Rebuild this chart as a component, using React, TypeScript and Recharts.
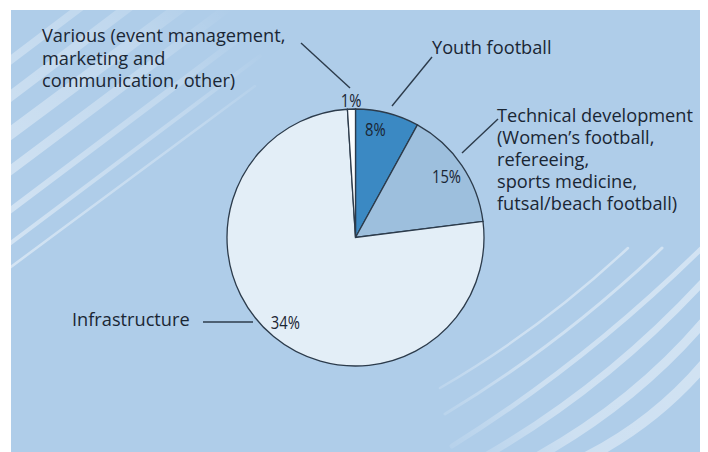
import React from "react";
import { PieChart, Pie, Cell, Customized } from "recharts";

// slices, clockwise from 12 o'clock
const categories = ["Youth football", "Technical development", "Infrastructure", "Various"];
const shares = [8, 15, 76, 1];
// percentages as printed on the chart
const printedLabels = ["8%", "15%", "34%", "1%"];
const sliceColors = ["#3b89c3", "#9dbfdd", "#e3eef7", "#fbfdff"];

// annotation texts
const youthText = ["Youth football"];
const technicalText = [
  "Technical development",
  "(Women\u2019s football,",
  "refereeing,",
  "sports medicine,",
  "futsal/beach football)",
];
const infraText = ["Infrastructure"];
const variousText = ["Various (event management,", "marketing and", "communication, other)"];

const W = 708;
const H = 452;
const CX = 355.5;
const CY = 237.5;
const R = 128.5;
const INK = "#1a2634";
const EDGE = "#2c3b4b";
const FONT = "'Open Sans', 'Noto Sans', sans-serif";
const RAD = Math.PI / 180;

const chartData = categories.map((name, i) => ({
  name,
  value: shares[i],
  label: printedLabels[i],
}));

const renderPercent = (props: any) => {
  const { cx, cy, midAngle, outerRadius, index } = props;
  const small = shares[index] < 3;
  const r = small ? outerRadius + 9.5 : outerRadius - 18.5;
  // the 8% label sits a little left of the slice middle in the original
  const a = index === 0 ? midAngle + 4 : midAngle;
  const x = cx + r * Math.cos(-a * RAD);
  const y = cy + r * Math.sin(-a * RAD);
  return (
    <text
      key={`pct-${index}`}
      transform={`translate(${x}, ${y}) scale(0.82, 1)`}
      textAnchor="middle"
      dominantBaseline="central"
      fontFamily={FONT}
      fontSize={18}
      fill={INK}
    >
      {printedLabels[index]}
    </text>
  );
};

const TextBlock = ({ lines, x, y, step }: { lines: string[]; x: number; y: number; step: number }) => (
  <text fontFamily={FONT} fontSize={18.2} fill={INK}>
    {lines.map((l, i) => (
      <tspan key={i} x={x} y={y + i * step} dominantBaseline="central">
        {l}
      </tspan>
    ))}
  </text>
);

const Annotations = () => (
  <g>
    <line x1={301} y1={43} x2={350} y2={88} stroke={EDGE} strokeWidth={1.4} />
    <line x1={432} y1={57} x2={392} y2={106} stroke={EDGE} strokeWidth={1.4} />
    <line x1={498} y1={119} x2={462} y2={153} stroke={EDGE} strokeWidth={1.4} />
    <line x1={203} y1={322} x2={253} y2={322} stroke={EDGE} strokeWidth={1.4} />
    <TextBlock lines={variousText} x={42} y={35} step={22.5} />
    <TextBlock lines={youthText} x={432} y={47} step={22} />
    <TextBlock lines={technicalText} x={497} y={115} step={22} />
    <TextBlock lines={infraText} x={72} y={319} step={22} />
  </g>
);

// decorative light streaks on the panel
const Streaks = () => (
  <svg width={W} height={H} style={{ position: "absolute", left: 0, top: 0 }}>
    <defs>
      <clipPath id="panel">
        <rect x={11} y={10} width={689} height={442} />
      </clipPath>
      <linearGradient id="fadeTL" gradientUnits="userSpaceOnUse" x1={11} y1={260} x2={260} y2={40}>
        <stop offset="0" stopColor="#fff" stopOpacity={0.45} />
        <stop offset="0.7" stopColor="#fff" stopOpacity={0.22} />
        <stop offset="1" stopColor="#fff" stopOpacity={0} />
      </linearGradient>
      <linearGradient id="fadeBR" gradientUnits="userSpaceOnUse" x1={440} y1={440} x2={700} y2={250}>
        <stop offset="0" stopColor="#fff" stopOpacity={0.08} />
        <stop offset="0.35" stopColor="#fff" stopOpacity={0.38} />
        <stop offset="1" stopColor="#fff" stopOpacity={0.45} />
      </linearGradient>
    </defs>
    <g clipPath="url(#panel)" fill="none" strokeLinecap="round">
      <path d="M0 68 L90 0" stroke="url(#fadeTL)" strokeWidth={8} />
      <path d="M0 104 L135 2" stroke="url(#fadeTL)" strokeWidth={10} />
      <path d="M0 141 L190 0" stroke="url(#fadeTL)" strokeWidth={12} />
      <path d="M0 178 L230 6" stroke="url(#fadeTL)" strokeWidth={9} />
      <path d="M0 218 L250 30" stroke="url(#fadeTL)" strokeWidth={6} />
      <path d="M0 251 L260 56" stroke="url(#fadeTL)" strokeWidth={4} />
      <path d="M0 275 L255 86" stroke="url(#fadeTL)" strokeWidth={2.5} />
      <path d="M440 388 Q540 330 628 248" stroke="url(#fadeBR)" strokeWidth={2.5} />
      <path d="M445 414 Q560 345 662 248" stroke="url(#fadeBR)" strokeWidth={3} />
      <path d="M452 446 Q590 360 710 240" stroke="url(#fadeBR)" strokeWidth={5} />
      <path d="M482 458 Q610 385 712 272" stroke="url(#fadeBR)" strokeWidth={7} />
      <path d="M535 458 Q640 400 712 312" stroke="url(#fadeBR)" strokeWidth={9} />
      <path d="M585 458 Q660 420 712 355" stroke="url(#fadeBR)" strokeWidth={11} />
    </g>
  </svg>
);

export default function App() {
  return (
    <div style={{ position: "absolute", left: 0, top: 0, width: W, height: H, background: "#ffffff" }}>
      <div
        style={{
          position: "absolute",
          left: 11,
          top: 10,
          width: 689,
          height: 442,
          background: "#afcde9",
        }}
      />
      <Streaks />
      <div style={{ position: "absolute", left: 0, top: 0 }}>
        <PieChart width={W} height={H} margin={{ top: 0, right: 0, bottom: 0, left: 0 }}>
          <Pie
            data={chartData}
            dataKey="value"
            nameKey="name"
            cx={CX}
            cy={CY}
            outerRadius={R}
            startAngle={90}
            endAngle={-270}
            stroke={EDGE}
            strokeWidth={1.3}
            label={renderPercent}
            labelLine={false}
            isAnimationActive={false}
          >
            {chartData.map((d, i) => (
              <Cell key={d.name} fill={sliceColors[i]} />
            ))}
          </Pie>
          <Customized component={Annotations} />
        </PieChart>
      </div>
    </div>
  );
}
